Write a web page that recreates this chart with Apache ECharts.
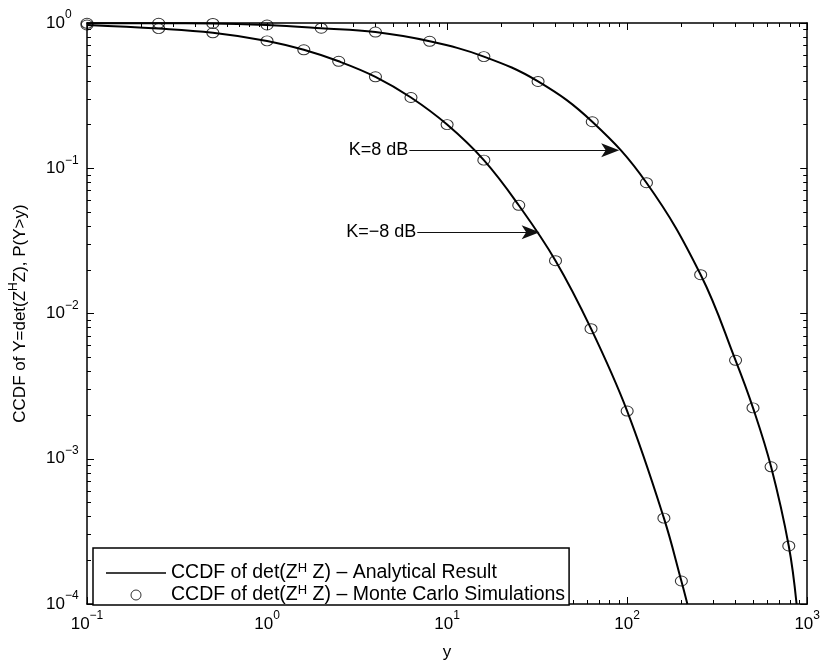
<!DOCTYPE html>
<html>
<head>
<meta charset="utf-8">
<script src="https://cdn.jsdelivr.net/npm/echarts@6/dist/echarts.min.js"></script>
<style>
    html, body { margin: 0; padding: 0; background: #fff; }
    #chart { width: 823px; height: 666px; }
</style>
</head>
<body>
<div id="chart"></div>
<script>
// K = 8 dB (Monte Carlo points)
const kPosY = [0.1, 0.25, 0.5, 1, 2, 4, 8, 16, 32, 64, 128, 256, 400, 500, 630, 790];
const kPosCcdf = [0.995, 0.995, 0.993, 0.969, 0.921, 0.866, 0.748, 0.587, 0.396, 0.209, 0.0795, 0.0185, 0.00476, 0.00224, 0.00088, 0.000251];
// K = -8 dB (Monte Carlo points)
const kNegY = [0.1, 0.25, 0.5, 1, 1.6, 2.5, 4, 6.3, 10, 16, 25, 40, 63, 100, 160, 200];
const kNegCcdf = [0.969, 0.915, 0.856, 0.753, 0.654, 0.545, 0.426, 0.307, 0.1998, 0.1137, 0.0556, 0.0231, 0.00786, 0.00213, 0.00039, 0.000144];
// where the analytical curves leave the bottom of the plot
const kPosEnd = [873, 1e-4];
const kNegEnd = [216, 1e-4];

// annotations (end = centre of the arrow head)
const arrowLabels = ['K=8 dB', 'K=\u22128 dB'];
const arrowFrom = [[6.17, 0.1328], [6.83, 0.0362]];
const arrowTo = [[80.5, 0.1328], [29.1, 0.0362]];

// ticks
const xTicks = [0.1, 1, 10, 100, 1000];
const yTicks = [1e-4, 1e-3, 1e-2, 1e-1, 1];
const minorSteps = [2, 3, 4, 5, 6, 7, 8, 9];

const FONT = '"Liberation Sans", Arial, Helvetica, sans-serif';
// arrow head, padded to a square box so it is not stretched
const ARROW = 'path://M0,18L0,18M18,18L18,18M18,0L18,0M0,0L0,0M9,0L16,18L9,13.5L2,18Z';
// thin line for the legend entry of the analytical curves
const LEGEND_LINE = 'path://M0,0L0,0M0,10L0,10M0,4.2L60,4.2L60,5.8L0,5.8Z';

function minorOf(majors) {
    const out = [];
    majors.slice(0, -1).forEach(m => minorSteps.forEach(s => out.push(m * s)));
    return out;
}
const xMinor = minorOf(xTicks);
const yMinor = minorOf(yTicks);

function powLabel(v) {
    const e = Math.round(Math.log10(v));
    return '{b|10}{s|' + (e < 0 ? '\u2212' + (-e) : e) + '}';
}

const tickRich = {
    b: { fontSize: 17, lineHeight: 28, fontFamily: FONT, color: '#000' },
    s: { fontSize: 12, lineHeight: 12, verticalAlign: 'top', fontFamily: FONT, color: '#000' }
};

function pairs(xs, ys) {
    return xs.map((x, i) => [x, ys[i]]);
}

function makeAxis(dim, position, ticks, len, opts) {
    const isX = dim === 'x';
    return Object.assign({
        type: 'log',
        logBase: 10,
        position: position,
        min: isX ? 0.1 : 1e-4,
        max: isX ? 1000 : 1,
        axisLine: { show: false },
        axisTick: { show: true, inside: true, length: len, customValues: ticks, lineStyle: { color: '#000', width: 1 } },
        axisLabel: { show: false },
        splitLine: { show: false },
        minorTick: { show: false },
        minorSplitLine: { show: false }
    }, opts || {});
}

const chart = echarts.init(document.getElementById('chart'));

const option = {
    animation: false,
    backgroundColor: '#fff',
    grid: { left: 84, right: 15, top: 23, bottom: 50 },
    xAxis: [
        makeAxis('x', 'bottom', xTicks, 7, {
            axisLine: { show: true, lineStyle: { color: '#000', width: 1.5 } },
            axisLabel: {
                show: true, customValues: xTicks, margin: 6, formatter: powLabel, rich: tickRich
            },
            name: 'y',
            nameLocation: 'middle',
            nameGap: 40,
            nameTextStyle: { fontSize: 17, fontFamily: FONT, color: '#000' }
        }),
        makeAxis('x', 'top', xTicks, 7, {
            axisLine: { show: true, lineStyle: { color: '#000', width: 1.5 } }
        }),
        makeAxis('x', 'bottom', xMinor, 4),
        makeAxis('x', 'top', xMinor, 4)
    ],
    yAxis: [
        makeAxis('y', 'left', yTicks, 7, {
            axisLine: { show: true, lineStyle: { color: '#000', width: 1.5 } },
            axisLabel: {
                show: true, customValues: yTicks, margin: 41, align: 'left',
                formatter: powLabel, rich: tickRich
            },
            name: '{t|CCDF of Y=det(Z}{s|H}{t|Z), P(Y>y)}',
            nameLocation: 'middle',
            nameGap: 55,
            nameTextStyle: {
                rich: {
                    t: { fontSize: 17, lineHeight: 24, fontFamily: FONT, color: '#000' },
                    s: { fontSize: 12, lineHeight: 12, verticalAlign: 'top', fontFamily: FONT, color: '#000' }
                }
            }
        }),
        makeAxis('y', 'right', yTicks, 7, {
            axisLine: { show: true, lineStyle: { color: '#000', width: 1.5 } }
        }),
        makeAxis('y', 'left', yMinor, 4),
        makeAxis('y', 'right', yMinor, 4)
    ],
    legend: {
        left: 93,
        top: 548,
        orient: 'vertical',
        itemWidth: 60,
        itemHeight: 10,
        itemGap: 1,
        padding: [14, 4, 0, 13],
        borderColor: '#000',
        borderWidth: 1.5,
        backgroundColor: '#fff',
        selectedMode: false,
        data: [
            { name: 'analytic', icon: LEGEND_LINE, itemStyle: { color: '#000', borderWidth: 0 } },
            { name: 'mc', itemStyle: { color: 'rgba(0,0,0,0)', borderColor: '#000', borderWidth: 1 } }
        ],
        formatter: function (name) {
            return name === 'analytic'
                ? '{t|CCDF of det(Z}{s|H}{t| Z) \u2013 Analytical Result}'
                : '{t|CCDF of det(Z}{s|H}{t| Z) \u2013 Monte Carlo Simulations}';
        },
        textStyle: {
            color: '#000',
            rich: {
                t: { fontSize: 19.5, lineHeight: 22, fontFamily: FONT, color: '#000' },
                s: { fontSize: 13, lineHeight: 12, verticalAlign: 'top', fontFamily: FONT, color: '#000' }
            }
        }
    },
    series: [
        {
            name: 'analytic',
            type: 'line',
            data: pairs(kPosY, kPosCcdf).concat([kPosEnd]),
            symbol: 'none',
            smooth: 0.4,
            lineStyle: { color: '#000', width: 2 },
            itemStyle: { color: '#000' },
            z: 3,
            markLine: {
                silent: true,
                animation: false,
                symbol: ['none', ARROW],
                symbolSize: 18,
                lineStyle: { color: '#111', width: 1, type: 'solid' },
                label: {
                    show: true, position: 'start', distance: 1,
                    formatter: p => p.name,
                    fontSize: 18, fontFamily: FONT, color: '#000'
                },
                emphasis: { disabled: true },
                data: arrowLabels.map((t, i) => [
                    { name: t, coord: arrowFrom[i] },
                    { coord: arrowTo[i] }
                ])
            }
        },
        {
            name: 'analytic',
            type: 'line',
            data: pairs(kNegY, kNegCcdf).concat([kNegEnd]),
            symbol: 'none',
            smooth: 0.4,
            lineStyle: { color: '#000', width: 2 },
            itemStyle: { color: '#000' },
            z: 3
        },
        {
            name: 'mc',
            type: 'scatter',
            data: pairs(kPosY, kPosCcdf),
            symbol: 'circle',
            symbolSize: [12, 10],
            itemStyle: { color: 'rgba(0,0,0,0)', borderColor: '#000', borderWidth: 1 },
            z: 4
        },
        {
            name: 'mc',
            type: 'scatter',
            data: pairs(kNegY, kNegCcdf),
            symbol: 'circle',
            symbolSize: [12, 10],
            itemStyle: { color: 'rgba(0,0,0,0)', borderColor: '#000', borderWidth: 1 },
            z: 4
        }
    ]
};

chart.setOption(option);
</script>
</body>
</html>
